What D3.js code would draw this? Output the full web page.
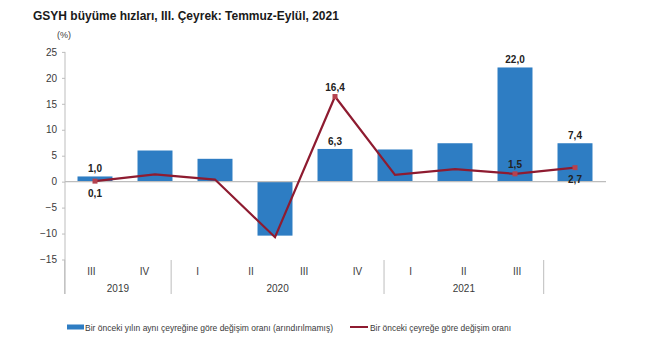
<!DOCTYPE html>
<html>
<head>
<meta charset="utf-8">
<script src="https://cdn.jsdelivr.net/npm/d3@7"></script>
<style>
  html, body { margin: 0; padding: 0; background: #fff; }
  svg { display: block; font-family: "Liberation Sans", Arial, sans-serif; }
</style>
</head>
<body>
<svg id="chart" width="650" height="346"></svg>
<script>
// Quarterly GDP growth, 2019 Q3 – 2021 Q3
const quarters = ["III", "IV", "I", "II", "III", "IV", "I", "II", "III"];
const years = ["2019", "2019", "2020", "2020", "2020", "2020", "2021", "2021", "2021"];
// Year-on-year change (unadjusted) — bars
const yoyValues = [1.0, 6.0, 4.4, -10.4, 6.3, 6.2, 7.4, 22.0, 7.4];
// Quarter-on-quarter change — line
const qoqValues = [0.1, 1.4, 0.4, -10.7, 16.4, 1.3, 2.4, 1.5, 2.7];
// Which points carry a value label
const yoyLabelled = [0, 4, 7, 8];
const qoqLabelled = [0, 4, 7, 8];
const qoqLabelBelow = [0, 8];
const yTicks = [-15, -10, -5, 0, 5, 10, 15, 20, 25];

const title = "GSYH büyüme hızları, III. Çeyrek: Temmuz-Eylül, 2021";
const unitLabel = "(%)";
const legendBar = "Bir önceki yılın aynı çeyreğine göre değişim oranı (arındırılmamış)";
const legendLine = "Bir önceki çeyreğe göre değişim oranı";

const barColor = "#2e7dc3";
const lineColor = "#8e1b30";
const markerColor = "#b5424f";
const axisColor = "#bdbdbd";
const textColor = "#3a3a3a";

const svg = d3.select("#chart");
const idx = d3.range(quarters.length);
const fmt = v => d3.format(".1f")(v).replace(".", ",");

const y = d3.scaleLinear().domain([-15, 25]).range([259.5, 51.9]);

// bars and line share one band scale
const xBar = d3.scaleBand().domain(idx).range([65, 605])
  .paddingInner(0.417).paddingOuter(0.2085);
// category labels sit on their own, narrower band
const xCat = d3.scaleBand().domain(idx).range([64.7, 543.7]);

// title
svg.append("text").attr("x", 33).attr("y", 20)
  .attr("font-size", 12).attr("font-weight", "bold").attr("fill", "#1a1a1a")
  .text(title);
svg.append("text").attr("x", 64).attr("y", 38)
  .attr("font-size", 9).attr("fill", textColor).attr("text-anchor", "middle")
  .text(unitLabel);

// y axis
const yAxis = d3.axisLeft(y).tickValues(yTicks).tickSize(3).tickPadding(5)
  .tickFormat(d3.format("d"));
const gy = svg.append("g").attr("transform", "translate(65,0)").call(yAxis);
gy.select(".domain").remove();
gy.selectAll(".tick line").attr("stroke", axisColor);
gy.selectAll(".tick text").attr("fill", textColor).attr("font-size", 10)
  .attr("font-family", "Liberation Sans, Arial, sans-serif");
svg.append("line").attr("x1", 65).attr("x2", 65)
  .attr("y1", y(25)).attr("y2", 294)
  .attr("stroke", axisColor).attr("stroke-width", 1);

// bars
svg.append("g").selectAll("rect").data(idx).join("rect")
  .attr("x", i => xBar(i))
  .attr("width", xBar.bandwidth())
  .attr("y", i => y(Math.max(0, yoyValues[i])))
  .attr("height", i => Math.abs(y(yoyValues[i]) - y(0)))
  .attr("fill", barColor);

// zero line
svg.append("line").attr("x1", 65).attr("x2", 606)
  .attr("y1", y(0)).attr("y2", y(0))
  .attr("stroke", axisColor).attr("stroke-width", 1.2);

// line
const cx = i => xBar(i) + xBar.bandwidth() / 2;
svg.append("path").datum(idx)
  .attr("fill", "none").attr("stroke", lineColor).attr("stroke-width", 2.2)
  .attr("stroke-linejoin", "miter")
  .attr("d", d3.line().x(cx).y(i => y(qoqValues[i])));
svg.append("g").selectAll("rect").data(qoqLabelled).join("rect")
  .attr("x", i => cx(i) - 2.5).attr("y", i => y(qoqValues[i]) - 2.5)
  .attr("width", 5).attr("height", 5)
  .attr("fill", markerColor);

// value labels
const lbl = svg.append("g").attr("font-size", 10).attr("font-weight", "bold")
  .attr("fill", "#222").attr("text-anchor", "middle");
lbl.selectAll("text.bar").data(yoyLabelled).join("text").attr("class", "bar")
  .attr("x", cx)
  .attr("y", i => y(yoyValues[i]) - 4)
  .text(i => fmt(yoyValues[i]));
lbl.selectAll("text.line").data(qoqLabelled).join("text").attr("class", "line")
  .attr("x", cx)
  .attr("y", i => qoqLabelBelow.includes(i)
    ? y(qoqValues[i]) + (i === 0 ? 16 : 15)
    : y(qoqValues[i]) - 6)
  .text(i => fmt(qoqValues[i]));

// category axis: quarters, years and separators
const cat = svg.append("g").attr("font-size", 10).attr("fill", textColor)
  .attr("text-anchor", "middle");
cat.selectAll("text.q").data(idx).join("text").attr("class", "q")
  .attr("x", i => xCat(i) + xCat.bandwidth() / 2).attr("y", 274.5)
  .text(i => quarters[i]);
const yearGroups = d3.groups(idx, i => years[i]);
cat.selectAll("text.y").data(yearGroups).join("text").attr("class", "y")
  .attr("x", d => (xCat(d[1][0]) + xCat(d[1][d[1].length - 1]) + xCat.bandwidth()) / 2)
  .attr("y", 291.5)
  .text(d => d[0]);
const seps = yearGroups.map(d => xCat(d[1][0])).concat([xCat.range()[1]]);
svg.append("g").selectAll("line").data(seps).join("line")
  .attr("x1", d => d).attr("x2", d => d)
  .attr("y1", 260).attr("y2", 294)
  .attr("stroke", axisColor);

// legend
const lg = svg.append("g").attr("font-size", 9).attr("fill", textColor);
lg.append("rect").attr("x", 67).attr("y", 324.5).attr("width", 17).attr("height", 5)
  .attr("fill", barColor);
lg.append("text").attr("x", 85).attr("y", 330.5).attr("textLength", 248)
  .attr("lengthAdjust", "spacingAndGlyphs").text(legendBar);
lg.append("line").attr("x1", 350).attr("x2", 368).attr("y1", 327).attr("y2", 327)
  .attr("stroke", lineColor).attr("stroke-width", 2);
lg.append("text").attr("x", 370).attr("y", 330.5).attr("textLength", 141)
  .attr("lengthAdjust", "spacingAndGlyphs").text(legendLine);
</script>
</body>
</html>
